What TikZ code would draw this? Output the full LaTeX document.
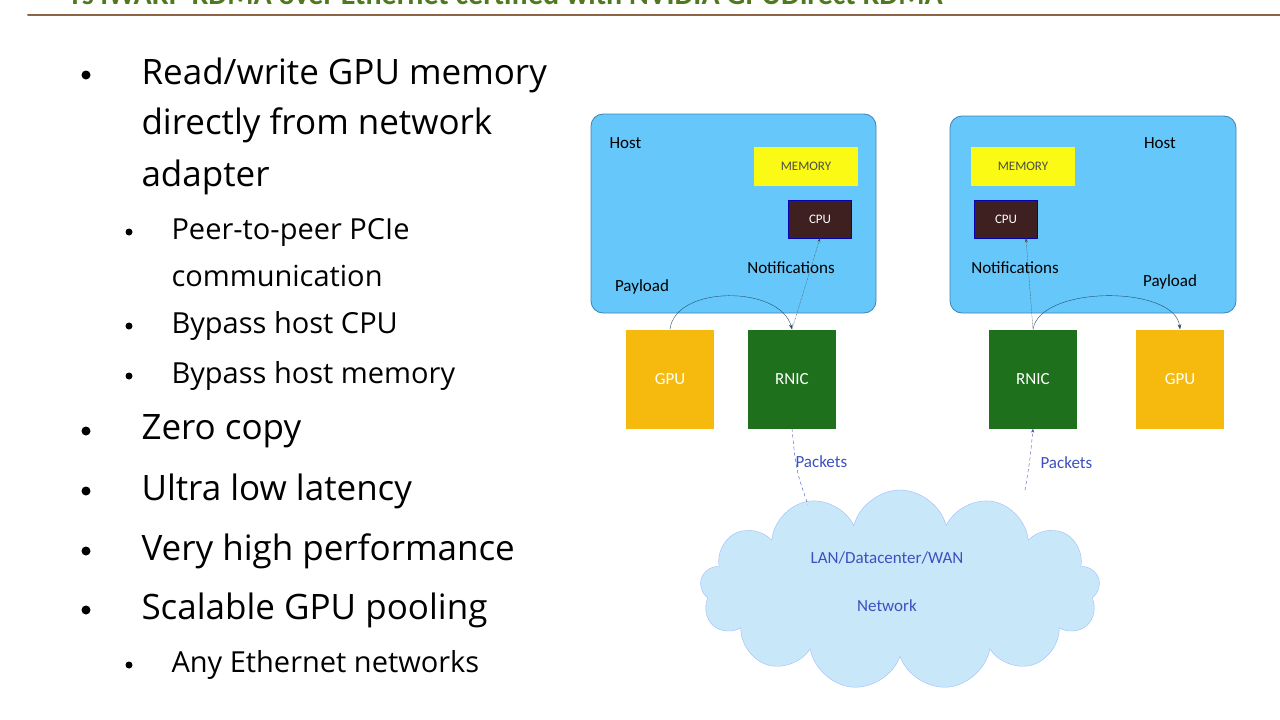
\documentclass[tikz,border=0pt]{standalone}
\usepackage{fontspec}
\setmainfont{Carlito}
\newfontfamily\slidefont{Open Sans}
\usetikzlibrary{shapes.symbols,arrows.meta}
\definecolor{hostblue}{RGB}{102,200,250}
\definecolor{hostedge}{RGB}{60,130,180}
\definecolor{memyellow}{RGB}{250,250,20}
\definecolor{cpubrown}{RGB}{62,32,32}
\definecolor{gpuorange}{RGB}{246,186,14}
\definecolor{rnicgreen}{RGB}{30,112,28}
\definecolor{cloudblue}{RGB}{200,232,250}
\definecolor{netblue}{RGB}{60,80,190}
\definecolor{titlegreen}{RGB}{80,120,30}
\definecolor{rulebrown}{RGB}{140,100,70}
\tikzset{
  host/.style={draw=hostedge, fill=hostblue, rounded corners=12pt, thick},
  chip/.style={draw=none, minimum width=88pt, minimum height=99pt, text=white, font=\fontsize{17}{17}\selectfont},
  memorybox/.style={fill=memyellow, minimum width=104pt, minimum height=39pt, font=\fontsize{13}{13}\selectfont, text=black!70},
  cpubox/.style={fill=cpubrown, draw=blue!70!black, minimum width=63pt, minimum height=38pt, text=white, font=\fontsize{13}{13}\selectfont},
  lbl/.style={font=\fontsize{17}{17}\selectfont},
  bigitem/.style={anchor=west, font=\slidefont\fontsize{35}{35}\selectfont},
  smallitem/.style={anchor=west, font=\slidefont\fontsize{29}{29}\selectfont},
  dot/.style={circle, fill=black, inner sep=0pt, minimum size=#1},
}
\begin{document}
\begin{tikzpicture}[x=1pt, y=-1pt, line cap=round, line join=round]
  \useasboundingbox (0,0) rectangle (1280,720);
  \clip (0,0) rectangle (1280,720);

  % title and rule
  \node[anchor=base west, text=titlegreen, font=\bfseries\fontsize{30}{30}\selectfont] (title) at (68,5) {rs iWARP RDMA over Ethernet certified with NVIDIA GPUDirect RDMA};
  \draw[rulebrown, line width=2pt] (28,15) -- (1280,15);

  % bullets
  \foreach \y/\t in {75/{Read/write GPU memory}, 431/{Zero copy}, 491/{Ultra low latency}, 551/{Very high performance}, 610/{Scalable GPU pooling}}{
    \node[dot=9pt] at (86,\y) {};
    \node[bigitem] at (138,\y) {\t};
  }
  \node[bigitem] (l2) at (138,125) {directly from network};
  \node[bigitem] (l3) at (138,177) {adapter};
  \foreach \y/\t in {232/{Peer-to-peer PCIe}, 326/{Bypass host CPU}, 376/{Bypass host memory}, 665/{Any Ethernet networks}}{
    \node[dot=7pt] at (129,\y) {};
    \node[smallitem] at (168,\y) {\t};
  }
  \node[smallitem] (s2) at (168,276) {communication};

  % left host
  \draw[host] (591,114) rectangle (876,313);
  \node[lbl, anchor=west] (hostL) at (606,143) {Host};
  \node[memorybox] (memL) at (806,166) {MEMORY};
  \node[cpubox] (cpuL) at (820,219) {CPU};
  \node[lbl] (notL) at (791,268) {Notifications};
  \node[lbl] (payL) at (642,287) {Payload};
  \node[chip, fill=gpuorange] (gpuL) at (670,379) {GPU};
  \node[chip, fill=rnicgreen] (rnicL) at (792,379) {RNIC};

  % right host
  \draw[host] (950,116) rectangle (1236,313);
  \node[lbl] (hostR) at (1160,143) {Host};
  \node[memorybox] (memR) at (1023,166) {MEMORY};
  \node[cpubox] (cpuR) at (1006,219) {CPU};
  \node[lbl] (notR) at (1015,268) {Notifications};
  \node[lbl] (payR) at (1170,282) {Payload};
  \node[chip, fill=rnicgreen] (rnicR) at (1033,379) {RNIC};
  \node[chip, fill=gpuorange] (gpuR) at (1180,379) {GPU};

  % network
  \node[cloud, cloud puffs=13, aspect=2.2, fill=cloudblue, draw=cloudblue!80!blue, minimum width=400pt, minimum height=200pt] (net) at (900,590) {};
  \node[lbl, text=netblue] (lan) at (887,558) {LAN/Datacenter/WAN};
  \node[lbl, text=netblue] (netw) at (887,606) {Network};

  % connectors
  \draw[hostedge!60!black, -{Stealth[length=5pt]}] (gpuL.north) .. controls (675,285) and (780,285) .. (rnicL.north);
  \draw[hostedge!60!black, -{Stealth[length=5pt]}] (rnicR.north) .. controls (1040,285) and (1175,285) .. (gpuR.north);
  \draw[densely dotted, black!70, -{Stealth[length=4pt]}] (rnicL.north) -- (cpuL.south);
  \draw[densely dotted, black!70, -{Stealth[length=4pt]}] (rnicR.north) -- (cpuR.south -| 1026,0);
  \draw[dashed, netblue] (rnicL.south) .. controls (796,470) .. (808,505);
  \node[lbl, text=netblue, anchor=west] (pktL) at (792,462) {Packets};
  \draw[dashed, netblue, -{Stealth[length=4pt]}] (1025,490) .. controls (1030,460) .. (rnicR.south);
  \node[lbl, text=netblue, anchor=west] (pktR) at (1037,463) {Packets};
\end{tikzpicture}
\end{document}
